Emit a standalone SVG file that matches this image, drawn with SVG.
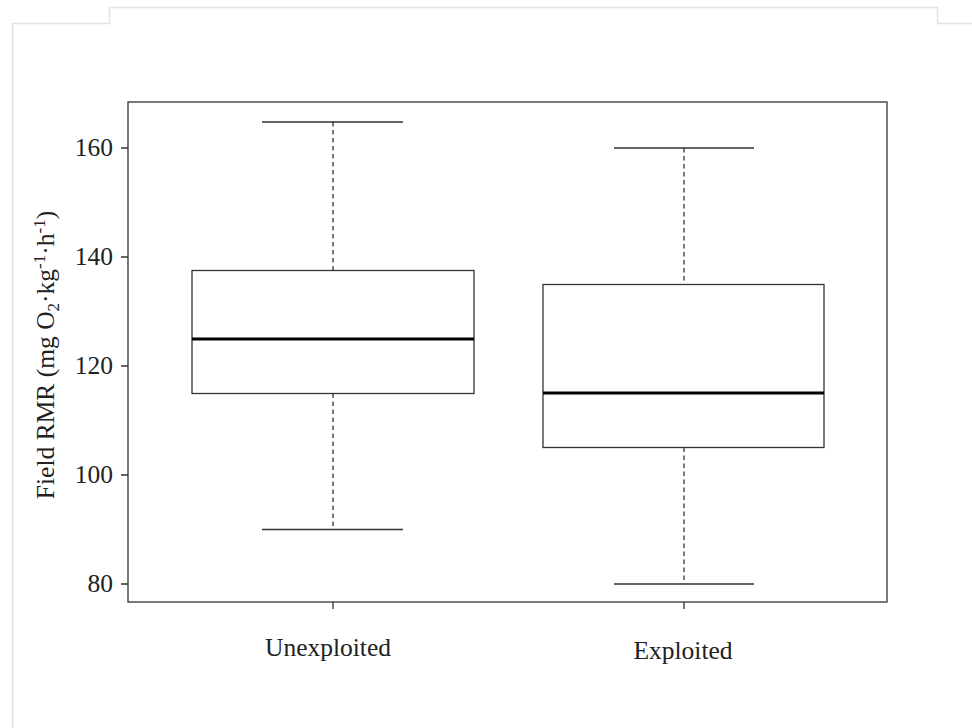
<svg xmlns="http://www.w3.org/2000/svg" width="972" height="728" viewBox="0 0 972 728">
<style>
.t{font-family:"Liberation Serif","Times New Roman",serif;font-size:25.5px;fill:#222}
.ax{stroke:#333;stroke-width:1.3;fill:none}
.box{stroke:#333;stroke-width:1.3;fill:#fff}
.wh{stroke:#333;stroke-width:1.3;stroke-dasharray:4.5,3.5;fill:none}
.med{stroke:#000;stroke-width:3.2}
.frame{stroke:#e2e2e2;stroke-width:1.5;fill:none}
</style>
<rect width="972" height="728" fill="#fff"/>
<path class="frame" d="M12.5,728 V23.5 H109.5 V7.5 H937.5 V23.5 H972"/>
<g id="axes">
<rect class="ax" x="128" y="102" width="759" height="500"/>
<path class="ax" d="M121,584H128M121,475H128M121,366H128M121,257H128M121,148H128M333,602V609M684,602V609"/>
<text class="t" x="113" y="592" text-anchor="end">80</text>
<text class="t" x="113" y="483" text-anchor="end">100</text>
<text class="t" x="113" y="374" text-anchor="end">120</text>
<text class="t" x="113" y="265" text-anchor="end">140</text>
<text class="t" x="113" y="156" text-anchor="end">160</text>
<text class="t" x="328" y="656" text-anchor="middle">Unexploited</text>
<text class="t" x="683" y="659" text-anchor="middle">Exploited</text>
<text class="t" transform="translate(54,355) rotate(-90)" text-anchor="middle">Field RMR (mg O<tspan font-size="17" baseline-shift="-5">2</tspan>·kg<tspan font-size="17" baseline-shift="9">-1</tspan>·h<tspan font-size="17" baseline-shift="9">-1</tspan>)</text>
</g>
<g id="connectors">
<path class="wh" d="M333,122V270.5M333,393.5V529.5M684,148V284.5M684,447.5V584"/>
<path class="ax" d="M262,122H403M262,529.5H403M614,148H754M614,584H754"/>
</g>
<g id="unexploited">
<rect class="box" x="192" y="270.5" width="282" height="123"/>
<line class="med" x1="192" y1="339" x2="474" y2="339"/>
</g>
<g id="exploited">
<rect class="box" x="543" y="284.5" width="281" height="163"/>
<line class="med" x1="543" y1="393" x2="824" y2="393"/>
</g>
</svg>
